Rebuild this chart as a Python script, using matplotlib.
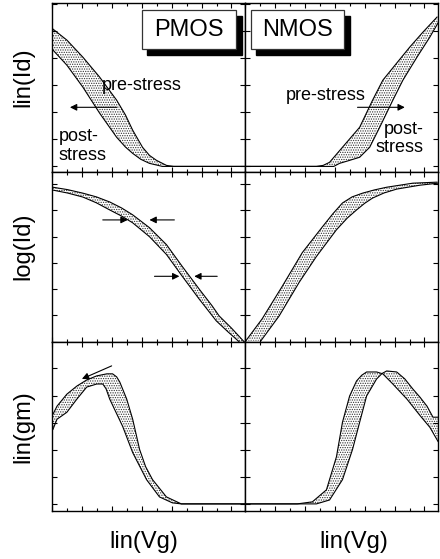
import numpy as np
import matplotlib.pyplot as plt
from matplotlib.patches import Rectangle
from matplotlib.ticker import MultipleLocator

plt.rcParams['font.family'] = ['Liberation Sans', 'DejaVu Sans']
plt.rcParams['hatch.linewidth'] = 0.6

# --- PMOS linear Id (pre-stress / post-stress) ---
p_lin_vg_pre = [0.05, 0.77, 1.60, 2.47, 3.35, 3.80, 4.18, 4.69, 5.05, 5.41, 5.93, 6.30, 10.0]
p_lin_id_pre = [8.11, 7.46, 6.45, 5.27, 3.91, 3.05, 2.14, 1.13, 0.65, 0.36, 0.06, 0.0, 0.0]
p_lin_vg_post = [0.05, 0.77, 1.60, 2.47, 3.35, 3.80, 4.18, 4.60, 5.05, 5.72, 10.0]
p_lin_id_post = [6.87, 5.98, 4.68, 3.14, 1.72, 1.15, 0.77, 0.42, 0.18, 0.0, 0.0]

# --- NMOS linear Id ---
n_lin_vg_pre = [0.0, 3.70, 4.05, 4.38, 5.05, 5.94, 6.61, 7.14, 7.86, 8.54, 9.22, 9.95]
n_lin_id_pre = [0.0, 0.0, 0.06, 0.24, 1.13, 2.31, 3.91, 5.09, 6.10, 7.05, 7.93, 8.82]
n_lin_vg_post = [0.0, 4.60, 4.90, 5.40, 5.94, 6.46, 6.98, 7.66, 8.18, 8.91, 9.58, 10.0]
n_lin_id_post = [0.0, 0.0, 0.18, 0.35, 0.54, 1.13, 2.31, 3.91, 5.09, 6.45, 7.64, 8.47]

# --- PMOS log Id ---
p_log_vg_pre = [0.05, 0.80, 1.60, 2.30, 2.99, 3.60, 4.18, 5.05, 5.93, 6.75, 7.63, 8.30, 8.66, 9.30, 9.95]
p_log_id_pre = [9.12, 8.98, 8.77, 8.55, 8.25, 7.90, 7.49, 6.73, 5.73, 4.44, 3.10, 2.11, 1.52, 0.80, 0.0]
p_log_vg_post = [0.05, 0.80, 1.60, 2.30, 2.99, 3.60, 4.18, 5.05, 5.93, 6.75, 7.63, 8.51, 9.10, 9.69]
p_log_id_post = [8.95, 8.78, 8.54, 8.20, 7.78, 7.42, 7.02, 6.20, 5.15, 3.86, 2.51, 1.23, 0.60, 0.0]

# --- NMOS log Id ---
n_log_vg_pre = [0.05, 0.89, 1.93, 2.97, 4.01, 4.55, 5.05, 5.55, 6.09, 6.70, 7.34, 8.70, 9.95]
n_log_id_pre = [0.06, 1.35, 3.27, 5.26, 6.78, 7.55, 8.19, 8.55, 8.77, 8.96, 9.12, 9.36, 9.42]
n_log_vg_post = [0.83, 1.77, 2.81, 3.70, 4.74, 5.30, 5.78, 6.20, 6.61, 7.20, 7.86, 9.06, 10.0]
n_log_id_post = [0.06, 1.52, 3.51, 5.03, 6.61, 7.30, 7.78, 8.17, 8.48, 8.78, 9.01, 9.24, 9.36]

# --- PMOS gm ---
p_gm_vg_pre = [0.0, 0.26, 0.77, 1.29, 1.80, 2.32, 2.84, 3.14, 3.35, 3.51, 3.87, 4.18,
               4.54, 4.85, 5.21, 5.93, 6.70, 10.0]
p_gm_pre = [5.18, 5.77, 6.48, 6.96, 7.32, 7.56, 7.68, 7.68, 7.50, 7.20, 6.19, 5.00,
            3.21, 2.20, 1.43, 0.41, 0.0, 0.0]
p_gm_vg_post = [0.05, 0.26, 0.77, 1.29, 1.80, 2.32, 2.63, 2.80, 2.99, 3.66, 4.18, 4.90,
                5.57, 6.24, 6.70, 10.0]
p_gm_post = [4.40, 5.00, 5.41, 6.19, 6.90, 7.08, 7.08, 6.80, 6.19, 4.58, 3.03, 1.43,
             0.41, 0.06, 0.0, 0.0]

# --- NMOS gm ---
n_gm_vg_pre = [0.0, 2.71, 3.49, 4.22, 4.74, 5.05, 5.42, 5.78, 6.05, 6.30, 6.82, 7.14,
               7.66, 8.39, 9.06, 9.58, 10.0]
n_gm_pre = [0.0, 0.0, 0.12, 0.83, 2.79, 4.82, 6.37, 7.26, 7.60, 7.79, 7.79, 7.68,
            7.08, 6.19, 5.23, 4.52, 3.69]
n_gm_vg_post = [0.0, 3.70, 4.38, 5.05, 5.57, 5.94, 6.30, 6.82, 7.10, 7.34, 7.86, 8.28,
                8.70, 9.06, 9.43, 9.74, 10.0]
n_gm_post = [0.0, 0.0, 0.23, 1.43, 3.21, 4.82, 6.37, 7.38, 7.70, 7.85, 7.79, 7.38,
             6.78, 6.31, 5.77, 5.12, 5.12]

fig, axes = plt.subplots(3, 2, figsize=(4.4, 5.59), dpi=100)
fig.subplots_adjust(left=52 / 440, right=438 / 440, top=1 - 3 / 559,
                    bottom=1 - 511 / 559, wspace=0, hspace=0)

ylims = [(-0.35, 9.65), (0, 10), (-0.42, 9.58)]
ysteps = [1.6, 1.55, 1.6]
for r in range(3):
    for c in range(2):
        ax = axes[r, c]
        ax.set_xlim(0, 10)
        ax.set_ylim(*ylims[r])
        ax.xaxis.set_major_locator(MultipleLocator(1.55))
        ax.xaxis.set_minor_locator(MultipleLocator(0.775))
        ax.yaxis.set_major_locator(MultipleLocator(ysteps[r]))
        ax.tick_params(which='both', direction='in', top=True, right=True,
                       labelbottom=False, labelleft=False, width=0.8)
        ax.tick_params(which='major', length=3.5)
        ax.tick_params(which='minor', length=2)
        for s in ax.spines.values():
            s.set_linewidth(1.0)


def band(ax, xa, ya, xb, yb):
    # dotted fill between the two edge curves, then the solid edges
    px = np.r_[xa, xb[::-1]]
    py = np.r_[ya, yb[::-1]]
    ax.fill(px, py, facecolor='none', edgecolor='0.2', linewidth=0,
            hatch='.......')
    ax.plot(xa, ya, color='k', lw=0.8)
    ax.plot(xb, yb, color='k', lw=0.8)


band(axes[0, 0], p_lin_vg_pre, p_lin_id_pre, p_lin_vg_post, p_lin_id_post)
band(axes[0, 1], n_lin_vg_pre, n_lin_id_pre, n_lin_vg_post, n_lin_id_post)
band(axes[1, 0], p_log_vg_pre, p_log_id_pre, p_log_vg_post, p_log_id_post)
band(axes[1, 1], n_log_vg_pre, n_log_id_pre, n_log_vg_post, n_log_id_post)
band(axes[2, 0], p_gm_vg_pre, p_gm_pre, p_gm_vg_post, p_gm_post)
band(axes[2, 1], n_gm_vg_pre, n_gm_pre, n_gm_vg_post, n_gm_post)

arrow = dict(arrowstyle='-|>', color='k', lw=0.8, mutation_scale=10,
             shrinkA=0, shrinkB=0)


def add_arrow(ax, tail, head):
    ax.annotate('', xy=head, xytext=tail, arrowprops=arrow)


# device labels with drop shadow
def device_box(ax, label, x0, y0, w, h):
    ax.add_patch(Rectangle((x0 + 0.028, y0 - 0.036), w, h, transform=ax.transAxes,
                           facecolor='k', edgecolor='k', zorder=5))
    ax.add_patch(Rectangle((x0, y0), w, h, transform=ax.transAxes,
                           facecolor='white', edgecolor='0.2', lw=0.9, zorder=6))
    ax.text(x0 + w / 2, y0 + h / 2, label, transform=ax.transAxes, ha='center',
            va='center', fontsize=17, zorder=7)


device_box(axes[0, 0], 'PMOS', 0.464, 0.728, 0.490, 0.231)
device_box(axes[0, 1], 'NMOS', 0.031, 0.728, 0.484, 0.231)

# stress annotations
ax = axes[0, 0]
ax.text(2.58, 4.79, 'pre-stress', fontsize=13, ha='left', va='center')
ax.text(0.36, 1.21, 'post-\nstress', fontsize=13, ha='left', va='center',
        linespacing=1.1)
add_arrow(ax, (3.35, 3.49), (0.93, 3.49))

ax = axes[0, 1]
ax.text(4.17, 4.20, 'pre-stress', fontsize=13, ha='center', va='center')
ax.text(9.27, 1.63, 'post-\nstress', fontsize=13, ha='right', va='center',
        linespacing=1.1, multialignment='right')
add_arrow(ax, (5.83, 3.49), (8.28, 3.49))

ax = axes[1, 0]
add_arrow(ax, (2.63, 7.19), (3.92, 7.19))
add_arrow(ax, (6.34, 7.19), (5.05, 7.19))
add_arrow(ax, (5.31, 3.86), (6.60, 3.86))
add_arrow(ax, (8.56, 3.86), (7.37, 3.86))

add_arrow(axes[2, 0], (3.09, 8.15), (1.55, 7.38))

# axis titles
for label, yc in [('lin(Id)', 77), ('log(Id)', 246), ('lin(gm)', 427)]:
    fig.text(23 / 440, 1 - yc / 559, label, rotation=90, fontsize=17,
             ha='center', va='center')
for xc in (144, 354):
    fig.text(xc / 440, 1 - 542 / 559, 'lin(Vg)', fontsize=17,
             ha='center', va='center')

fig.savefig('out.png', dpi=100)
